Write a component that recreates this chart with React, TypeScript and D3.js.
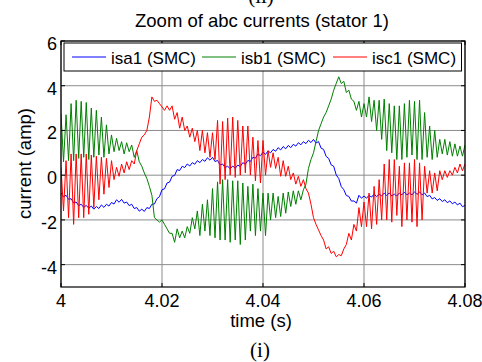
import React from "react";
import * as d3 from "d3";

// time grid: A samples at t = 4 + i ms, B samples at t = 4 + (i + 0.5) ms
const T0 = 4;
const STEP = 0.001;

const xTicks = [4, 4.02, 4.04, 4.06, 4.08];
const xTickLabels = ["4", "4.02", "4.04", "4.06", "4.08"];
const yTicks = [-4, -2, 0, 2, 4, 6];
const yTickLabels = ["-4", "-2", "0", "2", "4", "6"];

const seriesNames = ["isa1 (SMC)", "isb1 (SMC)", "isc1 (SMC)"];
const seriesColors = ["#0000ff", "#008000", "#ff0000"];

const blueA = [-0.8, -0.9, -1.05, -1.2, -1.3, -1.35, -1.38, -1.4, -1.33, -1.3, -1.22, -1.1, -1.08, -1.2, -1.3, -1.45, -1.52, -1.45, -1.3, -1.05, -0.65, -0.35, -0.05, 0.25, 0.4, 0.5, 0.56, 0.65, 0.7, 0.78, 0.8, 0.66, 0.5, 0.4, 0.41, 0.45, 0.56, 0.66, 0.8, 0.95, 1.03, 1.08, 1.15, 1.23, 1.28, 1.33, 1.38, 1.45, 1.5, 1.56, 1.6, 1.5, 1.15, 0.75, 0.4, -0.15, -0.65, -0.95, -1.15, -0.9, -0.93, -0.9, -0.84, -0.85, -0.8, -0.79, -0.85, -0.8, -0.75, -0.8, -0.74, -0.75, -0.8, -0.9, -1.0, -1.05, -1.1, -1.15, -1.2, -1.25, -1.35];
const blueB = [-0.96, -1.08, -1.24, -1.36, -1.44, -1.48, -1.52, -1.49, -1.44, -1.38, -1.29, -1.21, -1.25, -1.36, -1.49, -1.61, -1.62, -1.49, -1.29, -0.96, -0.61, -0.31, -0.01, 0.21, 0.34, 0.41, 0.49, 0.56, 0.62, 0.67, 0.61, 0.46, 0.34, 0.29, 0.31, 0.39, 0.49, 0.61, 0.76, 0.87, 0.93, 1.0, 1.07, 1.13, 1.18, 1.23, 1.3, 1.36, 1.41, 1.46, 1.44, 1.21, 0.84, 0.46, 0.01, -0.51, -0.91, -1.16, -1.25, -1.03, -1.03, -0.98, -0.96, -0.93, -0.91, -0.93, -0.93, -0.88, -0.88, -0.88, -0.86, -0.88, -0.96, -1.06, -1.13, -1.18, -1.23, -1.28, -1.33, -1.41, -1.45];

const greenA = [2.75, 2.7, 3.2, 3.35, 3.3, 3.25, 3.0, 2.9, 2.6, 2.25, 1.8, 1.65, 1.5, 1.45, 1.35, 1.1, 0.4, -0.15, -0.9, -2.0, -2.0, -2.4, -2.6, -2.4, -2.5, -2.3, -1.9, -1.6, -1.3, -1.1, -0.6, -0.3, -0.2, -0.2, -0.25, -0.25, -0.35, -0.5, -0.4, -0.6, -0.8, -0.8, -0.8, -0.95, -0.8, -0.75, -0.7, -0.7, -0.65, 0.3, 1.0, 2.0, 2.6, 3.1, 3.8, 4.4, 4.2, 3.8, 3.3, 3.3, 3.2, 3.5, 3.35, 3.35, 3.4, 3.2, 3.1, 3.1, 3.2, 3.35, 3.3, 3.35, 2.8, 2.2, 2.0, 1.6, 1.6, 1.5, 1.4, 1.3, 1.35];
const greenB = [0.6, 0.65, 0.65, 0.75, 0.8, 0.7, 0.8, 0.9, 0.8, 0.95, 1.05, 1.1, 0.95, 1.05, 0.8, 0.6, 0.1, -0.5, -1.9, -2.1, -2.2, -2.6, -3.0, -2.8, -2.8, -2.6, -2.4, -2.7, -2.5, -2.7, -2.8, -2.9, -2.9, -3.0, -2.9, -3.1, -2.9, -2.5, -2.7, -2.5, -2.7, -2.0, -1.9, -1.85, -1.7, -1.4, -1.3, -1.1, -0.4, 0.7, 1.5, 2.3, 2.8, 3.4, 4.1, 4.1, 3.7, 3.4, 2.9, 2.6, 2.6, 2.4, 2.0, 1.6, 1.1, 1.0, 0.7, 0.7, 0.8, 0.9, 0.7, 0.7, 0.8, 0.7, 0.8, 0.95, 0.9, 0.85, 0.85, 0.85, 0.9];

const redA = [0.35, 0.65, 0.95, 0.95, 0.95, 0.95, 0.9, 0.85, 0.8, 0.75, 0.65, 0.35, 0.5, 0.6, 0.65, 1.1, 1.7, 2.0, 3.5, 3.35, 3.05, 3.1, 3.1, 2.8, 2.6, 2.2, 2.1, 2.0, 2.0, 1.9, 1.9, 2.45, 2.4, 2.55, 2.6, 2.45, 2.2, 2.2, 1.7, 1.55, 1.55, 1.1, 1.0, 0.8, 0.65, 0.4, 0.1, -0.05, -0.2, -0.8, -1.9, -2.45, -2.9, -3.2, -3.4, -3.55, -3.3, -2.6, -2.2, -1.45, -1.2, -0.8, -0.5, -0.2, 0.5, 0.7, 0.7, 0.4, 0.55, 0.55, 0.7, 0.55, 0.4, 0.2, 0.1, 0.2, 0.2, 0.2, 0.35, 0.5, 0.5];
const redB = [-1.6, -1.9, -2.2, -1.9, -1.9, -1.75, -1.45, -1.1, -0.85, -0.55, -0.2, -0.05, 0.1, 0.25, 0.5, 1.4, 1.8, 2.6, 3.3, 3.2, 2.9, 2.9, 2.5, 2.1, 2.0, 1.7, 1.5, 1.1, 1.0, 0.8, 0.7, -0.4, -0.2, 0.0, -0.1, 0.0, 0.1, 0.0, -0.25, -0.35, 0.0, 0.35, 0.3, -0.05, -0.05, -0.2, -0.4, -0.5, -0.6, -1.3, -2.2, -2.7, -3.3, -3.5, -3.65, -3.6, -3.1, -2.9, -2.5, -2.3, -2.3, -2.4, -2.2, -2.0, -2.0, -2.1, -1.8, -2.3, -2.0, -2.1, -2.3, -2.0, -0.8, -0.8, -0.7, -0.2, -0.1, 0.0, 0.1, 0.2, 0.3];

const seriesA = [blueA, greenA, redA];
const seriesB = [blueB, greenB, redB];

const W = 482;
const H = 362;
const plot = { left: 61, right: 465, top: 41, bottom: 287 };

const FONT = "'Liberation Sans', Arial, Helvetica, sans-serif";
const SERIF = "'Liberation Serif', 'Times New Roman', serif";

export default function App() {
  const x = d3.scaleLinear().domain([4, 4.08]).range([plot.left, plot.right]);
  const y = d3.scaleLinear().domain([-5, 6]).range([plot.bottom, plot.top]);

  const line = d3
    .line<[number, number]>()
    .x((d) => x(d[0]))
    .y((d) => y(d[1]));

  const paths = seriesA.map((a, s) => {
    const b = seriesB[s];
    const pts: [number, number][] = [];
    for (let i = 0; i < a.length; i++) {
      pts.push([T0 + i * STEP, a[i]]);
      pts.push([T0 + (i + 0.5) * STEP, b[i]]);
    }
    return line(pts) || "";
  });

  const gridColor = "#8c8c8c";
  const tickLen = 4;

  const legendX = [72, 202, 333];
  const legendTextX = [111, 241, 372];

  return (
    <svg
      width={W}
      height={H}
      style={{ position: "absolute", left: 0, top: 0, display: "block", background: "#fff" }}
    >
      <defs>
        <clipPath id="plotclip">
          <rect x={plot.left} y={plot.top} width={plot.right - plot.left} height={plot.bottom - plot.top} />
        </clipPath>
      </defs>
      <rect x={0} y={0} width={W} height={H} fill="#fff" />

      {/* figure labels */}
      <text x={261} y={3} textAnchor="middle" fontFamily={SERIF} fontSize={21} fill="#000">
        (ii)
      </text>
      <text x={260} y={357} textAnchor="middle" fontFamily={SERIF} fontSize={21} fill="#000">
        (i)
      </text>

      {/* title */}
      <text x={262} y={27} textAnchor="middle" fontFamily={FONT} fontSize={18.5} fill="#000">
        Zoom of abc currents (stator 1)
      </text>

      {/* grid */}
      <g>
        {xTicks.map((t, i) => (
          <line key={"gx" + i} x1={x(t)} x2={x(t)} y1={plot.top} y2={plot.bottom} stroke={gridColor} strokeWidth={1} />
        ))}
        {yTicks.map((t, i) => (
          <line key={"gy" + i} x1={plot.left} x2={plot.right} y1={y(t)} y2={y(t)} stroke={gridColor} strokeWidth={1} />
        ))}
      </g>

      {/* data */}
      <g clipPath="url(#plotclip)">
        {paths.map((p, i) => (
          <path key={"p" + i} d={p} fill="none" stroke={seriesColors[i]} strokeWidth={1} strokeLinejoin="round" />
        ))}
      </g>

      {/* axes box */}
      <rect
        x={plot.left}
        y={plot.top}
        width={plot.right - plot.left}
        height={plot.bottom - plot.top}
        fill="none"
        stroke="#000"
        strokeWidth={1.2}
      />
      {xTicks.map((t, i) => (
        <g key={"xt" + i}>
          <line x1={x(t)} x2={x(t)} y1={plot.bottom} y2={plot.bottom - tickLen} stroke="#000" />
          <line x1={x(t)} x2={x(t)} y1={plot.top} y2={plot.top + tickLen} stroke="#000" />
          <text x={x(t)} y={307} textAnchor="middle" fontFamily={FONT} fontSize={18} fill="#000">
            {xTickLabels[i]}
          </text>
        </g>
      ))}
      {yTicks.map((t, i) => (
        <g key={"yt" + i}>
          <line x1={plot.left} x2={plot.left + tickLen} y1={y(t)} y2={y(t)} stroke="#000" />
          <line x1={plot.right} x2={plot.right - tickLen} y1={y(t)} y2={y(t)} stroke="#000" />
          <text x={57} y={y(t) + 9} textAnchor="end" fontFamily={FONT} fontSize={18} fill="#000">
            {yTickLabels[i]}
          </text>
        </g>
      ))}

      {/* axis labels */}
      <text x={261} y={327} textAnchor="middle" fontFamily={FONT} fontSize={18.5} fill="#000">
        time (s)
      </text>
      <text
        transform="translate(31,163.5) rotate(-90)"
        textAnchor="middle"
        fontFamily={FONT}
        fontSize={18.5}
        fill="#000"
      >
        current (amp)
      </text>

      {/* legend */}
      <rect x={64} y={43} width={397.5} height={28} fill="#fff" stroke="#000" strokeWidth={1} />
      {seriesNames.map((n, i) => (
        <g key={"lg" + i}>
          <line x1={legendX[i]} x2={legendX[i] + 34} y1={57} y2={57} stroke={seriesColors[i]} strokeWidth={1} />
          <text x={legendTextX[i]} y={63.5} fontFamily={FONT} fontSize={17} fill="#000">
            {n}
          </text>
        </g>
      ))}
    </svg>
  );
}
